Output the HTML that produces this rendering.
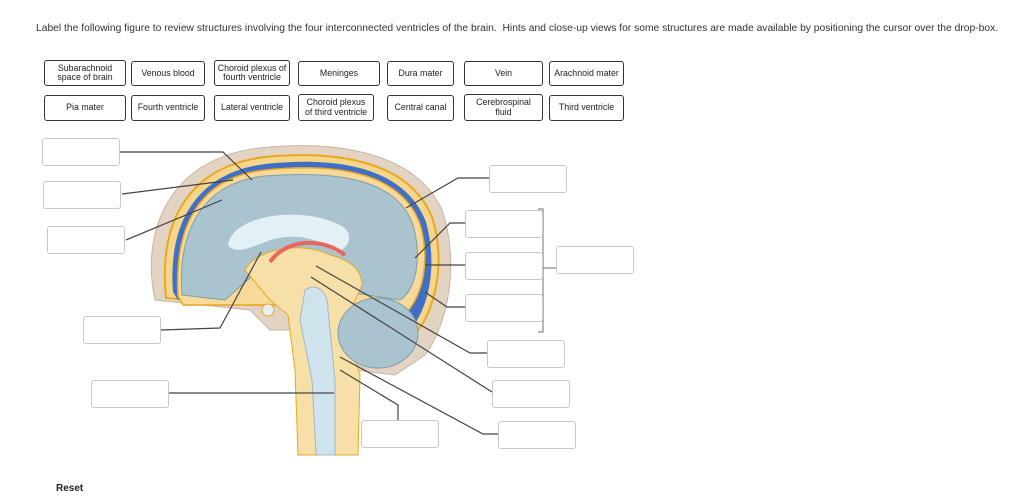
<!DOCTYPE html>
<html><head><style>
body{margin:0;width:1024px;height:500px;background:#fff;font-family:"Liberation Sans",sans-serif;position:relative;overflow:hidden}
.t{position:absolute;left:36px;top:23px;font-size:10.3px;color:#333;white-space:nowrap}
.b{position:absolute;border:1px solid #333;border-radius:3px;font-size:8.8px;color:#222;display:flex;align-items:center;justify-content:center;text-align:center;line-height:9.5px;box-sizing:border-box;background:#fff}
.d{position:absolute;border:1px solid #c8c8c8;border-radius:3px;width:78px;height:28px;box-sizing:border-box;background:#fff}
.r{position:absolute;left:56px;top:483px;font-size:10px;font-weight:bold;color:#222}
</style></head><body>
<div class="t">Label the following figure to review structures involving the four interconnected ventricles of the brain.&nbsp; Hints and close-up views for some structures are made available by positioning the cursor over the drop-box.</div>
<div class="b" style="left:44px;top:60px;width:82px;height:26px">Subarachnoid<br>space of brain</div>
<div class="b" style="left:131px;top:61px;width:74px;height:25px">Venous blood</div>
<div class="b" style="left:214px;top:60px;width:76px;height:26px">Choroid plexus of<br>fourth ventricle</div>
<div class="b" style="left:298px;top:61px;width:82px;height:25px">Meninges</div>
<div class="b" style="left:387px;top:61px;width:67px;height:25px">Dura mater</div>
<div class="b" style="left:464px;top:61px;width:79px;height:25px">Vein</div>
<div class="b" style="left:549px;top:61px;width:75px;height:25px">Arachnoid mater</div>
<div class="b" style="left:44px;top:95px;width:82px;height:26px">Pia mater</div>
<div class="b" style="left:131px;top:95px;width:74px;height:26px">Fourth ventricle</div>
<div class="b" style="left:214px;top:95px;width:76px;height:26px">Lateral ventricle</div>
<div class="b" style="left:298px;top:94px;width:76px;height:27px">Choroid plexus<br>of third ventricle</div>
<div class="b" style="left:387px;top:95px;width:67px;height:26px">Central canal</div>
<div class="b" style="left:464px;top:94px;width:79px;height:27px">Cerebrospinal<br>fluid</div>
<div class="b" style="left:549px;top:95px;width:75px;height:26px">Third ventricle</div>

<svg style="position:absolute;left:0;top:0" width="1024" height="500">
<!-- skull -->
<path d="M155,300 C140,230 170,158 260,148 C330,140 415,150 442,210 C460,262 448,325 425,355 L395,375 L355,370 L345,345 L300,330 L270,330 L250,310 Z" fill="#e3d3c3" stroke="#c9b5a0"/>
<!-- dura/venous -->
<path d="M166,298 C158,220 190,166 265,157 C340,150 412,162 433,220 C446,265 434,310 418,330 L395,345 L360,320 L300,305 L250,305 Z" fill="#f5d68a" stroke="#e8a820" stroke-width="2"/>
<path d="M173,292 C168,225 195,173 265,164 C340,156 405,168 426,222 C437,262 430,300 416,322 L400,330 L380,318 L330,300 L178,300 Z" fill="#3f6fc6"/>
<path d="M178,296 C174,225 200,177 265,170 C340,162 402,174 420,224 C431,262 422,295 407,312 L320,305 L183,305 Z" fill="#f7d99a" stroke="#e8a820" stroke-width="1.5"/>
<!-- brain -->
<path d="M182,295 C177,228 205,182 265,176 C340,170 400,180 414,228 C422,262 415,290 400,300 L335,290 L300,270 L250,278 L225,300 Z" fill="#a9c3cf" stroke="#7f9eab"/>
<!-- lateral ventricle -->
<path d="M228,245 C232,215 300,205 340,225 C355,232 350,250 335,252 C320,240 300,232 270,240 C250,248 235,255 228,245 Z" fill="#e3f0f6"/>
<!-- third ventricle / brainstem area -->
<path d="M245,270 C255,250 300,240 330,255 C350,260 362,270 362,285 L355,300 L345,330 L360,375 L358,455 L298,455 L295,370 L288,315 L270,300 Z" fill="#f7e0a8" stroke="#e8a820"/>
<path d="M305,290 C318,282 328,292 328,310 L335,380 L335,455 L316,455 L312,380 L300,320 Z" fill="#cfe3ec" stroke="#9fb8c4"/>
<path d="M270,262 C285,240 320,236 345,255" fill="none" stroke="#e8665a" stroke-width="4"/>
<!-- cerebellum -->
<ellipse cx="378" cy="333" rx="40" ry="35" fill="#a9c3cf" stroke="#7f9eab"/>
<circle cx="268" cy="310" r="6" fill="#e3f0f6" stroke="#e8a820"/>
<!-- leader lines -->
<g stroke="#444" stroke-width="1.2" fill="none">
<polyline points="120,152 223,152 252,180"/>
<line x1="122" y1="194" x2="233" y2="180"/>
<line x1="126" y1="240" x2="222" y2="200"/>
<polyline points="161,330 220,328 261,252"/>
<line x1="169" y1="393" x2="334" y2="393"/>
<polyline points="489,178 458,178 406,208"/>
<polyline points="465,223 450,223 415,258"/>
<line x1="465" y1="265" x2="425" y2="265"/>
<polyline points="465,307 447,307 425,292"/>
<polyline points="487,353 470,353 316,266"/>
<line x1="492" y1="392" x2="311" y2="277"/>
<polyline points="498,434 483,434 340,357"/>
<polyline points="340,370 398,405 398,420"/>
</g>
<g stroke="#888" stroke-width="1.2" fill="none">
<polyline points="538,209 543,209 543,332 538,332"/>
<line x1="543" y1="268" x2="556" y2="268"/>
</g>
</svg>

<div class="d" style="left:42px;top:138px"></div>
<div class="d" style="left:43px;top:181px"></div>
<div class="d" style="left:47px;top:226px"></div>
<div class="d" style="left:83px;top:316px"></div>
<div class="d" style="left:91px;top:380px"></div>
<div class="d" style="left:489px;top:165px"></div>
<div class="d" style="left:465px;top:210px"></div>
<div class="d" style="left:465px;top:252px"></div>
<div class="d" style="left:465px;top:294px"></div>
<div class="d" style="left:556px;top:246px"></div>
<div class="d" style="left:487px;top:340px"></div>
<div class="d" style="left:492px;top:380px"></div>
<div class="d" style="left:498px;top:421px"></div>
<div class="d" style="left:361px;top:420px"></div>
<div class="r">Reset</div>
</body></html>
